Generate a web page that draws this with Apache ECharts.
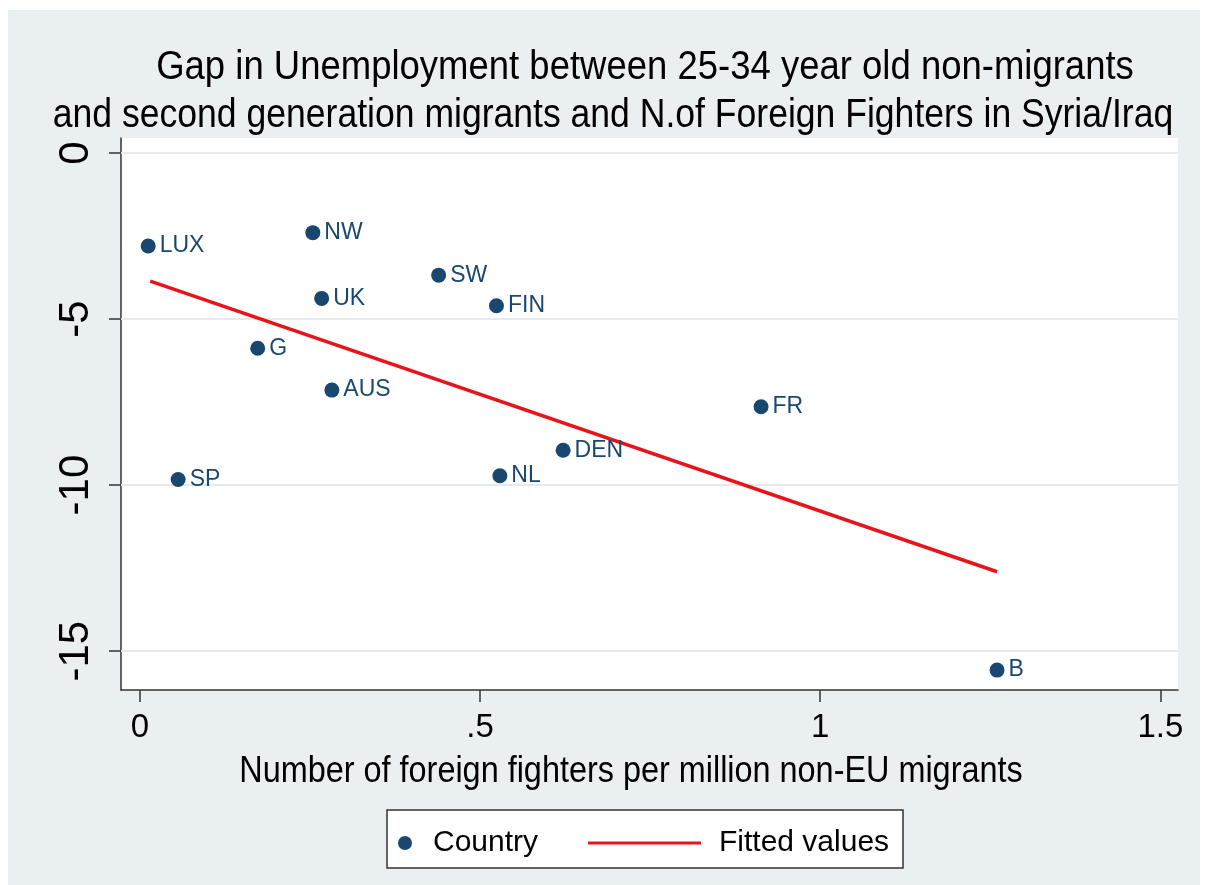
<!DOCTYPE html>
<html>
<head>
<meta charset="utf-8">
<script src="https://cdn.jsdelivr.net/npm/echarts@6/dist/echarts.min.js"></script>
<style>
  html, body { margin: 0; padding: 0; background: #ffffff; }
  #chart { position: absolute; left: 8px; top: 10px; width: 1192px; height: 875px; }
</style>
</head>
<body>
<div id="chart"></div>
<script>
// ---- Data ----
const countries = ['LUX', 'NW', 'SW', 'UK', 'FIN', 'G', 'AUS', 'FR', 'DEN', 'NL', 'SP', 'B'];
const fightersPerMillion = [0.012, 0.254, 0.439, 0.267, 0.524, 0.173, 0.282, 0.913, 0.622, 0.529, 0.056, 1.260];
const unemploymentGap = [-2.80, -2.40, -3.68, -4.38, -4.60, -5.88, -7.14, -7.64, -8.95, -9.72, -9.83, -15.57];
const fittedX = [0.015, 1.260];
const fittedY = [-3.86, -12.61];
const xTickValues = [0, 0.5, 1, 1.5];
const xTickLabels = ['0', '.5', '1', '1.5'];
const yTickValues = [0, -5, -10, -15];
const yTickLabels = ['0', '-5', '-10', '-15'];
const titleLines = [
  'Gap in Unemployment between 25-34 year old non-migrants',
  'and second generation migrants and N.of Foreign Fighters in Syria/Iraq'
];
const xAxisTitle = 'Number of foreign fighters per million non-EU migrants';
const seriesNames = ['Country', 'Fitted values'];

const FONT = '"Liberation Sans", Arial, Helvetica, sans-serif';
const NAVY = '#1a476f';
const RED = '#e8141c';

const scatterData = countries.map((c, i) => [fightersPerMillion[i], unemploymentGap[i], c]);
const fitData = fittedX.map((x, i) => [x, fittedY[i]]);

const chart = echarts.init(document.getElementById('chart'), null, { renderer: 'canvas' });

const option = {
  backgroundColor: '#eaf0f2',
  animation: false,
  textStyle: { fontFamily: FONT },
  graphic: [
    { type: 'text', x: 637, y: 58, scaleX: 0.89, z: 5,
      style: { text: titleLines[0], fontFamily: FONT, fontSize: 41, fill: '#000', align: 'center', verticalAlign: 'middle' } },
    { type: 'text', x: 605, y: 106, scaleX: 0.867, z: 5,
      style: { text: titleLines[1], fontFamily: FONT, fontSize: 41, fill: '#000', align: 'center', verticalAlign: 'middle' } },
    { type: 'text', x: 623, y: 762, scaleX: 0.9, z: 5,
      style: { text: xAxisTitle, fontFamily: FONT, fontSize: 36, fill: '#000', align: 'center', verticalAlign: 'middle' } },
    { type: 'rect', z: 0, shape: { x: 379, y: 800, width: 516, height: 58 },
      style: { fill: '#ffffff', stroke: '#333333', lineWidth: 1.5 } }
  ],
  grid: {
    left: 113, top: 128, right: 22, bottom: 195,
    show: true, backgroundColor: '#ffffff', borderWidth: 0
  },
  legend: [
    {
      z: 10, data: [{ name: seriesNames[0], icon: 'circle' }],
      left: 385, top: 813, itemWidth: 46, itemHeight: 14,
      textStyle: { fontSize: 30, color: '#000', fontFamily: FONT }
    },
    {
      z: 10, data: [{ name: seriesNames[1], icon: 'rect' }],
      left: 575, top: 813, itemWidth: 113, itemHeight: 3,
      itemStyle: { color: RED },
      textStyle: { fontSize: 30, color: '#000', fontFamily: FONT, padding: [0, 0, 0, 13] }
    }
  ],
  xAxis: {
    type: 'value', min: -0.028, max: 1.526,
    axisLine: { show: true, onZero: false, lineStyle: { color: '#333', width: 1.5 } },
    axisTick: { show: true, length: 12, customValues: xTickValues, lineStyle: { color: '#333', width: 1.5 } },
    axisLabel: {
      customValues: xTickValues, margin: 21, fontSize: 33, color: '#000', fontFamily: FONT,
      formatter: v => xTickLabels[xTickValues.indexOf(v)] ?? ''
    },
    splitLine: { show: false }
  },
  yAxis: {
    type: 'value', min: -16.17, max: 0.45,
    axisLine: { show: true, onZero: false, lineStyle: { color: '#333', width: 1.5 } },
    axisTick: { show: true, length: 12, customValues: yTickValues, lineStyle: { color: '#333', width: 1.5 } },
    axisLabel: {
      customValues: yTickValues, rotate: 90, margin: 24, fontSize: 42, color: '#000', fontFamily: FONT,
      formatter: v => yTickLabels[yTickValues.indexOf(v)] ?? ''
    },
    splitLine: { show: false }
  },
  series: [
    {
      name: seriesNames[0], type: 'scatter', data: scatterData,
      symbol: 'circle', symbolSize: 15, z: 4,
      itemStyle: { color: NAVY, opacity: 1 },
      label: {
        show: true, position: 'right', distance: 4,
        formatter: p => p.data[2],
        fontSize: 23, color: NAVY, opacity: 1, fontFamily: FONT
      },
      markLine: {
        silent: true, symbol: 'none', z: 1,
        label: { show: false },
        lineStyle: { color: '#e6eaec', width: 2, type: 'solid', opacity: 1 },
        data: yTickValues.map(v => ({ yAxis: v }))
      }
    },
    {
      name: seriesNames[1], type: 'line', data: fitData,
      symbol: 'none', showSymbol: false, z: 3,
      lineStyle: { color: RED, width: 3.5 },
      itemStyle: { color: RED }
    }
  ]
};
chart.setOption(option);
</script>
</body>
</html>
